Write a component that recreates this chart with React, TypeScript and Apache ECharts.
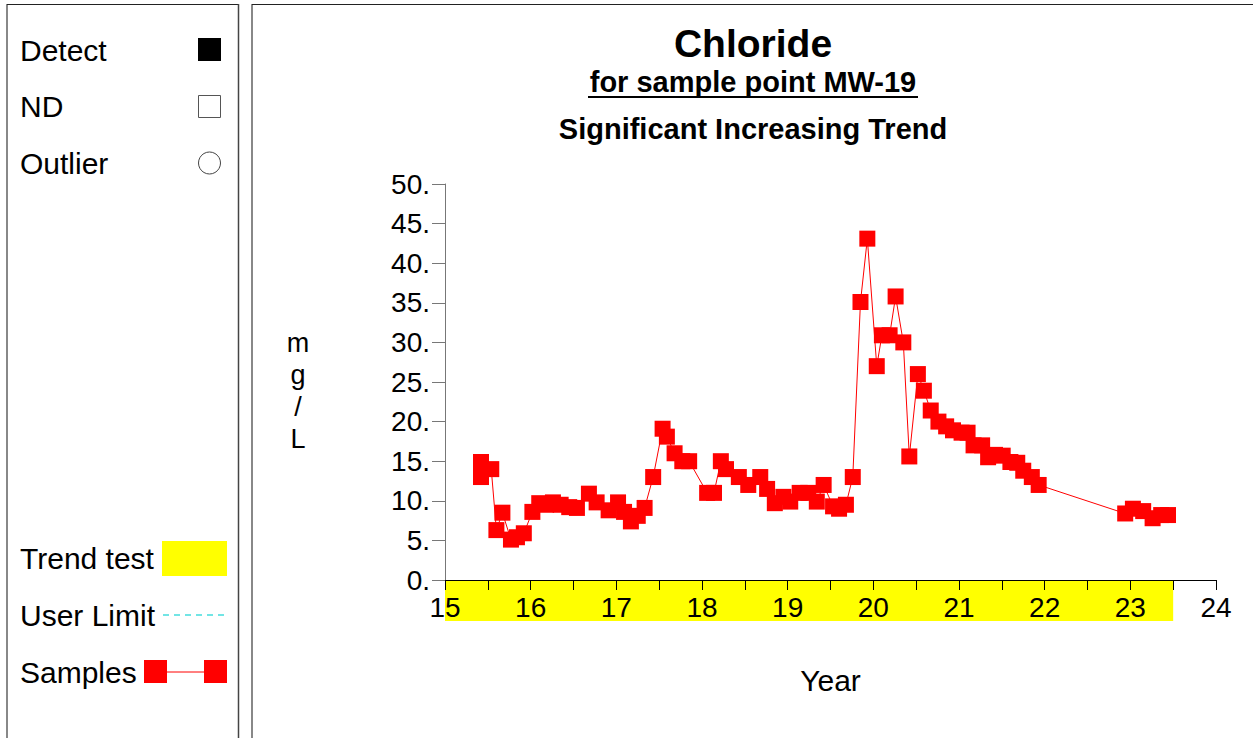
import React, { useEffect, useRef } from "react";
import * as echarts from "echarts";

const FONT = '"Liberation Sans", Arial, Helvetica, sans-serif';

// Sample dates (decimal years, 20xx) and chloride concentrations (mg/L)
const years = [
  15.42, 15.42, 15.54, 15.6, 15.67, 15.77, 15.84, 15.92, 16.02, 16.1,
  16.18, 16.26, 16.35, 16.45, 16.54, 16.68, 16.77, 16.91, 17.02, 17.09,
  17.17, 17.25, 17.33, 17.43, 17.54, 17.59, 17.68, 17.77, 17.85, 18.06,
  18.14, 18.22, 18.28, 18.43, 18.54, 18.68, 18.76, 18.85, 18.95, 19.03,
  19.14, 19.24, 19.34, 19.42, 19.53, 19.6, 19.68, 19.76, 19.85, 19.93,
  20.04, 20.1, 20.19, 20.26, 20.35, 20.42, 20.52, 20.59, 20.67, 20.76,
  20.85, 20.93, 21.03, 21.1, 21.17, 21.27, 21.34, 21.42, 21.51, 21.6,
  21.68, 21.75, 21.85, 21.93, 22.94, 23.03, 23.15, 23.26, 23.36, 23.44,
];
const chloride = [
  14.9, 13.0, 14.0, 6.3, 8.5, 5.1, 5.4, 5.9, 8.6, 9.7,
  9.5, 9.8, 9.5, 9.2, 9.1, 10.9, 9.8, 8.8, 9.8, 8.6,
  7.4, 8.1, 9.1, 13.0, 19.1, 18.1, 16.0, 15.0, 15.0, 11.0,
  11.0, 15.0, 14.0, 13.0, 12.0, 13.0, 11.5, 9.7, 10.5, 9.9,
  11.0, 11.0, 9.9, 12.0, 9.3, 9.0, 9.5, 13.0, 35.1, 43.1,
  27.0, 30.9, 30.9, 35.8, 30.0, 15.6, 26.0, 23.9, 21.4, 20.0,
  19.4, 18.9, 18.6, 18.6, 17.0, 17.0, 15.5, 15.8, 15.7, 14.9,
  14.8, 13.8, 13.0, 12.0, 8.4, 9.0, 8.7, 7.8, 8.2, 8.2,
];

const xMin = 15;
const xMax = 24;
const yMin = 0;
const yMax = 50;
const trendStart = 15;
const trendEnd = 23.5;

const titleText = "Chloride";
const subtitleText = "for sample point MW-19";
const trendText = "Significant Increasing Trend";
const yName = "m\ng\n/\nL";
const xName = "Year";

export default function App() {
  const ref = useRef<HTMLDivElement>(null);

  useEffect(() => {
    if (!ref.current) return;
    const chart = echarts.init(ref.current, null, { renderer: "svg" });
    const data = years.map((y, i) => [y, chloride[i]]);

    chart.setOption({
      animation: false,
      backgroundColor: "#ffffff",
      textStyle: { fontFamily: FONT },
      grid: { left: 445, right: 37, top: 184, bottom: 158, containLabel: false },
      xAxis: {
        type: "value",
        min: xMin,
        max: xMax,
        interval: 0.5,
        z: 20,
        axisLine: { show: true, lineStyle: { color: "#000", width: 1 } },
        axisTick: { show: true, length: 10, lineStyle: { color: "#000", width: 1 } },
        splitLine: { show: false },
        axisLabel: {
          color: "#000",
          fontSize: 28,
          fontFamily: FONT,
          margin: 13,
          formatter: (v: number) => (Number.isInteger(v) ? String(v) : ""),
        },
        name: xName,
        nameLocation: "middle",
        nameGap: 85,
        nameTextStyle: { color: "#000", fontSize: 30, fontFamily: FONT },
      },
      yAxis: {
        type: "value",
        min: yMin,
        max: yMax,
        interval: 5,
        z: 20,
        axisLine: { show: true, lineStyle: { color: "#777", width: 1 } },
        axisTick: { show: true, length: 13, lineStyle: { color: "#777", width: 1 } },
        splitLine: { show: false },
        axisLabel: {
          color: "#000",
          fontSize: 28,
          fontFamily: FONT,
          margin: 15,
          formatter: (v: number) => `${v}.`,
        },
      },
      series: [
        {
          type: "line",
          data,
          symbol: "rect",
          symbolSize: 16,
          itemStyle: { color: "#ff0000" },
          lineStyle: { color: "#ff0000", width: 1 },
          z: 30,
        },
      ],
    });

    const p0 = chart.convertToPixel({ gridIndex: 0 }, [trendStart, yMin]) as number[];
    const p1 = chart.convertToPixel({ gridIndex: 0 }, [trendEnd, yMin]) as number[];

    const txt = (text: string, x: number, y: number, size: number, opts: any = {}) => ({
      type: "text",
      x,
      y,
      style: {
        text,
        fill: "#000",
        font: `${opts.bold ? "bold " : ""}${size}px ${FONT}`,
        textAlign: opts.align || "left",
        textVerticalAlign: "middle",
        lineHeight: opts.lineHeight,
      },
    });

    chart.setOption({
      graphic: [
        // trend test band under the x axis
        {
          type: "rect",
          shape: { x: p0[0], y: p0[1], width: p1[0] - p0[0], height: 41 },
          style: { fill: "#ffff00" },
        },
        // panel borders
        { type: "line", shape: { x1: 7, y1: 4, x2: 7, y2: 740 }, style: { stroke: "#888", lineWidth: 2 } },
        { type: "line", shape: { x1: 7, y1: 4.5, x2: 238, y2: 4.5 }, style: { stroke: "#222", lineWidth: 1 } },
        { type: "line", shape: { x1: 238.5, y1: 4, x2: 238.5, y2: 740 }, style: { stroke: "#444", lineWidth: 1.5 } },
        { type: "line", shape: { x1: 252, y1: 4, x2: 252, y2: 740 }, style: { stroke: "#888", lineWidth: 2 } },
        { type: "line", shape: { x1: 252, y1: 4.5, x2: 1260, y2: 4.5 }, style: { stroke: "#222", lineWidth: 1 } },
        // titles
        txt(titleText, 753, 43, 39, { bold: true, align: "center" }),
        txt(subtitleText, 753, 82, 29, { bold: true, align: "center" }),
        { type: "line", shape: { x1: 588, y1: 97, x2: 918, y2: 97 }, style: { stroke: "#000", lineWidth: 2 } },
        txt(trendText, 753, 129, 29, { bold: true, align: "center" }),
        // y axis name
        txt(yName, 298, 391, 27, { align: "center", lineHeight: 32 }),
        // left legend
        txt("Detect", 20, 50, 30),
        { type: "rect", shape: { x: 198, y: 38, width: 23, height: 23 }, style: { fill: "#000" } },
        txt("ND", 20, 106, 30),
        { type: "rect", shape: { x: 198.5, y: 95.5, width: 22, height: 22 }, style: { fill: "#fff", stroke: "#555", lineWidth: 1 } },
        txt("Outlier", 20, 163, 30),
        { type: "circle", shape: { cx: 209.5, cy: 163, r: 11 }, style: { fill: "#fff", stroke: "#444", lineWidth: 1 } },
        txt("Trend test", 20, 558, 30),
        { type: "rect", shape: { x: 162, y: 541, width: 65, height: 35 }, style: { fill: "#ffff00" } },
        txt("User Limit", 20, 615, 30),
        { type: "line", shape: { x1: 163, y1: 615, x2: 227, y2: 615 }, style: { stroke: "#44dddd", lineWidth: 1.5, lineDash: [6, 5] } },
        txt("Samples", 20, 672, 30),
        { type: "line", shape: { x1: 160, y1: 672, x2: 210, y2: 672 }, style: { stroke: "#ff0000", lineWidth: 1 } },
        { type: "rect", shape: { x: 144, y: 660, width: 23, height: 23 }, style: { fill: "#ff0000" } },
        { type: "rect", shape: { x: 204, y: 660, width: 23, height: 23 }, style: { fill: "#ff0000" } },
      ],
    });

    return () => chart.dispose();
  }, []);

  return (
    <div
      ref={ref}
      style={{ position: "fixed", left: 0, top: 0, width: 1253, height: 738, background: "#fff" }}
    />
  );
}
